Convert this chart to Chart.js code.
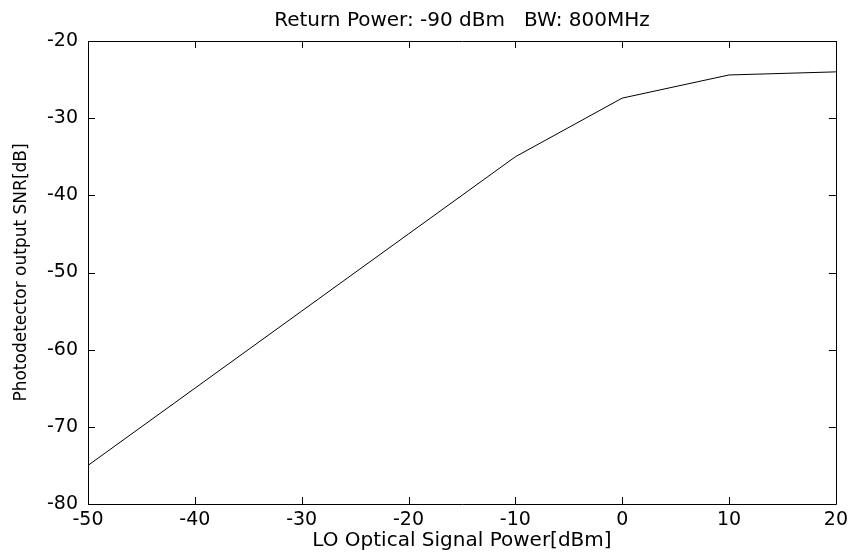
<!DOCTYPE html>
<html>
<head>
<meta charset="utf-8">
<script src="https://cdn.jsdelivr.net/npm/chart.js@4"></script>
<style>
  html, body { margin: 0; padding: 0; background: #fff; }
  #wrap { width: 853px; height: 553px; }
</style>
</head>
<body>
<div id="wrap"><canvas id="chart-snr"></canvas></div>
<script>
const LO_POWER = [-50, -40, -30, -20, -10, 0, 10, 20];
const SNR = [-75, -65, -55, -45, -35, -27.4, -24.4, -24.0];
const X_TICKS = [-50, -40, -30, -20, -10, 0, 10, 20];
const Y_TICKS = [-80, -70, -60, -50, -40, -30, -20];

const FONT = 'DejaVu Sans';

// matlab style box with inward ticks on all four sides
const boxPlugin = {
  id: 'box',
  afterDraw(chart) {
    const { ctx, chartArea: a, scales } = chart;
    const len = 7;
    ctx.save();
    ctx.strokeStyle = '#000';
    ctx.lineWidth = 1;
    ctx.beginPath();
    ctx.rect(Math.round(a.left) + 0.5, Math.round(a.top) + 0.5,
      Math.round(a.right - a.left), Math.round(a.bottom - a.top));
    X_TICKS.forEach((v) => {
      const x = Math.round(scales.x.getPixelForValue(v)) + 0.5;
      ctx.moveTo(x, a.bottom); ctx.lineTo(x, a.bottom - len);
      ctx.moveTo(x, a.top); ctx.lineTo(x, a.top + len);
    });
    Y_TICKS.forEach((v) => {
      const y = Math.round(scales.y.getPixelForValue(v)) + 0.5;
      ctx.moveTo(a.left, y); ctx.lineTo(a.left + len, y);
      ctx.moveTo(a.right, y); ctx.lineTo(a.right - len, y);
    });
    ctx.stroke();
    ctx.restore();
  },
};

const ctx = document.getElementById('chart-snr').getContext('2d');
new Chart(ctx, {
  type: 'line',
  data: {
    datasets: [
      {
        data: LO_POWER.map((x, i) => ({ x, y: SNR[i] })),
        borderColor: '#000',
        borderWidth: 1,
        pointRadius: 0,
        tension: 0,
        fill: false,
      },
    ],
  },
  options: {
    responsive: true,
    maintainAspectRatio: false,
    animation: false,
    layout: { padding: { left: 0, right: 12, top: 0, bottom: 0 } },
    plugins: {
      legend: { display: false },
      tooltip: { enabled: false },
      title: {
        display: true,
        fullSize: false,
        text: 'Return Power: -90 dBm   BW: 800MHz',
        color: '#000',
        font: { family: FONT, size: 20, weight: 'normal' },
        padding: { top: 9, bottom: 8 },
      },
    },
    scales: {
      x: {
        type: 'linear',
        min: -50,
        max: 20,
        afterBuildTicks: (s) => { s.ticks = X_TICKS.map((v) => ({ value: v })); },
        afterFit: (s) => { s.height = 49; },
        grid: { display: false, drawTicks: false },
        border: { display: false },
        ticks: { color: '#000', padding: 5, maxRotation: 0, font: { family: FONT, size: 19 } },
        title: {
          display: true,
          text: 'LO Optical Signal Power[dBm]',
          color: '#000',
          font: { family: FONT, size: 20 },
          padding: { top: 0, bottom: 0 },
        },
      },
      y: {
        type: 'linear',
        min: -80,
        max: -20,
        afterBuildTicks: (s) => { s.ticks = Y_TICKS.map((v) => ({ value: v })); },
        afterFit: (s) => { s.width = 88; },
        grid: { display: false, drawTicks: false },
        border: { display: false },
        ticks: { color: '#000', padding: 10, font: { family: FONT, size: 19 } },
        title: {
          display: true,
          text: 'Photodetector output SNR[dB]',
          color: '#000',
          font: { family: FONT, size: 17 },
          padding: { top: 11, bottom: 0 },
        },
      },
    },
  },
  plugins: [boxPlugin],
});
</script>
</body>
</html>
